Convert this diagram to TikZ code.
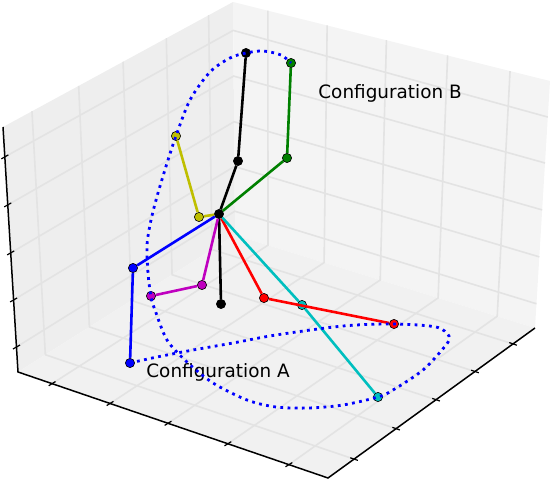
\documentclass[tikz,border=0pt]{standalone}
\usepackage{fontspec}
\setmainfont{DejaVu Sans}
\usetikzlibrary{calc}

\definecolor{mplc}{rgb}{0,0.75,0.75}
\definecolor{mplm}{rgb}{0.75,0,0.75}
\definecolor{mply}{rgb}{0.75,0.75,0}
\definecolor{mplg}{rgb}{0,0.5,0}
\definecolor{gridgray}{gray}{0.89}
\definecolor{paneleft}{gray}{0.935}
\definecolor{paneright}{gray}{0.955}
\definecolor{panefloor}{gray}{0.945}

\tikzset{
  joint/.style={circle,draw=black,line width=0.3pt,inner sep=0pt,minimum size=4.6pt},
  link/.style={line width=1.3pt},
  gridline/.style={gridgray,line width=0.8pt},
  traj/.style={blue,line width=1.4pt,dash pattern=on 1.4pt off 2.2pt},
  lbl/.style={font=\fontsize{9.2}{11}\selectfont,inner sep=0pt}
}

\begin{document}
\begin{tikzpicture}[x=0.5pt,y=-0.5pt]
    \useasboundingbox (0,0) rectangle (552,480);
    % box corners
    \coordinate (L) at (18,372);
    \coordinate (F) at (328,478);
    \coordinate (R) at (535,328);
    \coordinate (B) at (235,235);
    \coordinate (TL) at (3,127);
    \coordinate (TB) at (233,2);
    \coordinate (TR) at (550,81);
    \fill[paneleft] (L) -- (B) -- (TB) -- (TL) -- cycle;
    \fill[paneright] (B) -- (R) -- (TR) -- (TB) -- cycle;
    \fill[panefloor] (L) -- (F) -- (R) -- (B) -- cycle;
    \foreach \t in {0.11,0.297,0.484,0.677,0.874}
    \draw[gridline] ($(L)!\t!(F)$) -- ($(B)!\t!(R)$) -- ($(TB)!\t!(TR)$);
    \foreach \s in {0.126,0.329,0.522,0.71,0.894}
    \draw[gridline] ($(F)!\s!(R)$) -- ($(L)!\s!(B)$) -- ($(TL)!\s!(TB)$);
    \foreach \u/\v in {0.102/0.098,0.294/0.288,0.486/0.478,0.682/0.668,0.878/0.854}
    \draw[gridline] ($(L)!\u!(TL)$) -- ($(B)!\u!(TB)$) -- ($(R)!\v!(TR)$);
    % axes and ticks
    \draw[line width=0.75pt] (TL) -- (L) -- (F) -- (R);
    \foreach \t in {0.11,0.297,0.484,0.677,0.874}
    \draw[line width=0.6pt] ($(L)!\t!(F)+(-3.4,2.1)$) -- ($(L)!\t!(F)+(3.4,-2.1)$);
    \foreach \s in {0.126,0.329,0.522,0.71,0.894}
    \draw[line width=0.6pt] ($(F)!\s!(R)+(3.8,1.3)$) -- ($(F)!\s!(R)+(-3.8,-1.3)$);
    \foreach \u in {0.102,0.294,0.486,0.682,0.878}
    \draw[line width=0.6pt] ($(L)!\u!(TL)+(-3.5,2)$) -- ($(L)!\u!(TL)+(3.5,-2)$);
    %\draw[red] (B) circle (3);

    \node[lbl,anchor=base west] (cfgB) at (318,99) {Configuration B};
    \node[lbl,anchor=base west] (cfgA) at (146,378) {Configuration A};

    % joints
    \node[joint,fill=black] (hub) at (219,214) {};
    \node[joint,fill=black] (k1) at (238,161) {};
    \node[joint,fill=black] (k2) at (246,53) {};
    \node[joint,fill=black] (k3) at (221,304) {};
    \node[joint,fill=mply] (y1) at (199,217) {};
    \node[joint,fill=mply] (y2) at (176,136) {};
    \node[joint,fill=mplg] (g1) at (287,158) {};
    \node[joint,fill=mplg] (g2) at (291,63) {};
    \node[joint,fill=blue] (b1) at (133,268) {};
    \node[joint,fill=blue] (b2) at (130,363) {};
    \node[joint,fill=mplm] (m1) at (202,285) {};
    \node[joint,fill=mplm] (m2) at (151,296) {};
    \node[joint,fill=red] (r1) at (264,298) {};
    \node[joint,fill=red] (r2) at (394,324) {};
    \node[joint,fill=mplc] (c1) at (302,305) {};
    \node[joint,fill=mplc] (c2) at (378,397) {};

    % links
    \draw[link,black] (hub) -- (k1) -- (k2);
    \draw[link,black] (hub) -- (k3);
    \draw[link,mply] (hub) -- (y1) -- (y2);
    \draw[link,mplg] (hub) -- (g1) -- (g2);
    \draw[link,blue] (hub) -- (b1) -- (b2);
    \draw[link,mplm] (hub) -- (m1) -- (m2);
    \draw[link,red] (hub) -- (r1) -- (r2);
    \draw[link,mplc] (hub) -- (c1) -- (c2);

    % path of the end point
    \draw[traj] plot[smooth] coordinates {(130,363) (157,357) (193,350) (233,343) (276,335) (343,326) (394,324) (436,327) (449,336) (446,345) (423,370) (393,390) (378,397) (343,405) (309,408) (276,407) (247,400) (213,383) (187,362) (167,340) (155,310) (151,297) (148,273) (147,245) (151,220) (158,193) (168,160) (176,136) (190,100) (210,72) (230,58) (246,53) (263,51) (281,55) (291,63)};
\end{tikzpicture}
\end{document}
